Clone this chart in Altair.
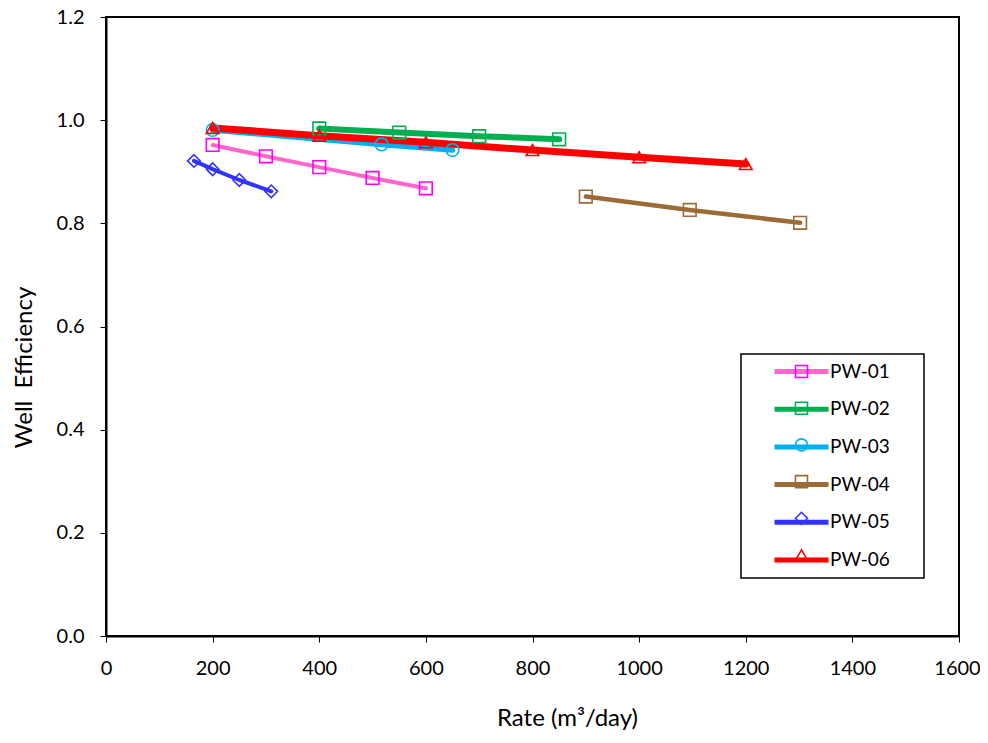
import altair as alt
import pandas as pd

# ---- data ----
wells = ["PW-01", "PW-02", "PW-03", "PW-04", "PW-05", "PW-06"]

pw01_rate = [200, 300, 400, 500, 600]
pw01_eff = [0.952, 0.930, 0.909, 0.888, 0.868]

pw02_rate = [400, 550, 700, 850]
pw02_eff = [0.984, 0.976, 0.969, 0.963]

pw03_rate = [200, 517, 650]
pw03_eff = [0.981, 0.953, 0.942]

pw04_rate = [900, 1095, 1302]
pw04_eff = [0.852, 0.826, 0.801]

pw05_rate = [165, 200, 250, 310]
pw05_eff = [0.921, 0.905, 0.884, 0.862]

pw06_rate = [200, 400, 600, 800, 1000, 1200]
pw06_eff = [0.985, 0.970, 0.957, 0.942, 0.928, 0.915]

x_ticks = [0, 200, 400, 600, 800, 1000, 1200, 1400, 1600]
y_ticks = [0.0, 0.2, 0.4, 0.6, 0.8, 1.0, 1.2]

# ---- styles ----
line_colors = ["#FF66CC", "#00B050", "#00B0F0", "#9C6A35", "#3333FF", "#FF0000"]
marker_colors = ["#FF00FF", "#00B050", "#00B0F0", "#9C6A35", "#3333FF", "#FF0000"]
line_widths = [4, 6, 5.5, 4.5, 4, 7]
shapes = ["square", "square", "circle", "square", "diamond", "triangle-up"]

series = [
    (pw01_rate, pw01_eff), (pw02_rate, pw02_eff), (pw03_rate, pw03_eff),
    (pw04_rate, pw04_eff), (pw05_rate, pw05_eff), (pw06_rate, pw06_eff),
]
rows = []
for i, (rs, es) in enumerate(series):
    for r, e in zip(rs, es):
        rows.append({"well": wells[i], "marker": wells[i], "rate": r, "eff": e,
                     "lw": line_widths[i]})
df = pd.DataFrame(rows)

FONT = "Lato"

x_enc = alt.X("rate:Q", scale=alt.Scale(domain=[0, 1600], nice=False),
              axis=alt.Axis(values=x_ticks, title="Rate (m³/day)", format="d",
                            titleX=461, titleY=82, titleBaseline="middle",
                            titleAlign="center", labelFlush=False,
                            labelOffset={"condition": {"test": "datum.value == 1600", "value": -2},
                                         "value": 0},
                            labelBaseline="middle", labelPadding=26))
y_enc = alt.Y("eff:Q", scale=alt.Scale(domain=[0, 1.2], nice=False),
              axis=alt.Axis(values=y_ticks, format=".1f", title="Well\u00a0 Efficiency",
                            titleX=-82, titleY=350, titleAngle=270,
                            titleBaseline="middle", titleAlign="center",
                            labelFlush=False, labelPadding=16))

LEG_X = 635
LEG_Y = 337
common_leg = dict(orient="none", legendX=LEG_X, legendY=LEG_Y,
                  padding=8, symbolOffset=43, labelOffset=19, rowPadding=16.7,
                  labelFont=FONT, labelFontSize=19, labelColor="black")

lines = alt.Chart(df).mark_line(strokeCap="round", strokeJoin="round").encode(
    x=x_enc,
    y=y_enc,
    color=alt.Color("well:N", scale=alt.Scale(range=line_colors),
                    legend=alt.Legend(symbolType="M-4.5,0H4.5", symbolSize=144,
                                      symbolStrokeWidth=5,
                                      strokeColor="black",
                                      title=".", titleOpacity=0, titleOrient="right",
                                      titlePadding=23, titleFontSize=8,
                                      **common_leg)),
    strokeWidth=alt.StrokeWidth("lw:Q", scale=None),
    detail="well:N",
)

mk_leg = alt.Legend(symbolSize=144, symbolStrokeWidth=1.6, labelOpacity=0,
                    title=None, **common_leg)
points = alt.Chart(df).mark_point(filled=False, size=160, strokeWidth=1.6, opacity=1).encode(
    x="rate:Q",
    y="eff:Q",
    stroke=alt.Stroke("marker:N", scale=alt.Scale(range=marker_colors), legend=mk_leg),
    shape=alt.Shape("marker:N", scale=alt.Scale(range=shapes), legend=mk_leg),
)

chart = alt.layer(lines, points).properties(
    width=853, height=619,
    autosize=alt.AutoSizeParams(type="none"),
    padding={"left": 98, "top": 9, "right": 21, "bottom": 94},
).configure_view(
    stroke="black", strokeWidth=2
).configure_axis(
    grid=False,
    domainColor="black", domainWidth=2,
    tickColor="black", tickSize=6, tickWidth=1,
    labelFont=FONT, labelFontSize=20, labelColor="black",
    titleFont=FONT, titleFontSize=24, titleFontWeight="normal", titleColor="black",
).configure_legend(
    strokeWidth=1.5
)

chart.save("out.html", embed_options={"renderer": "svg", "actions": False})
